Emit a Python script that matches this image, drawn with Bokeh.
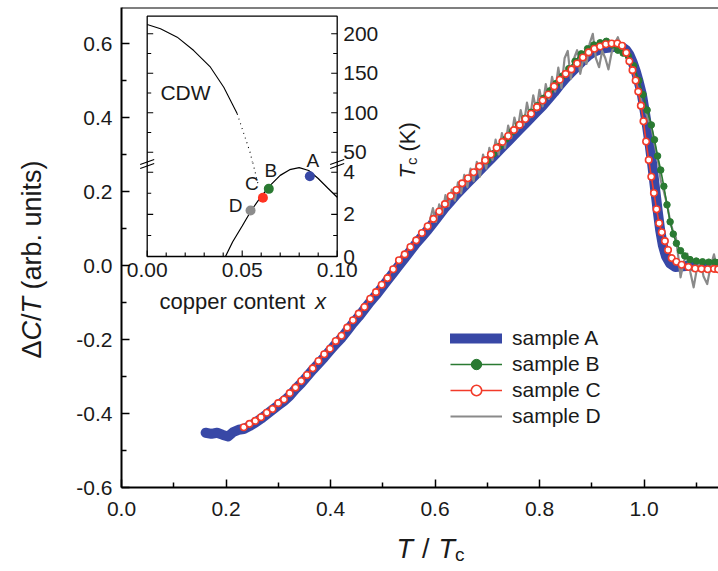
import math
from bokeh.plotting import figure
from bokeh.layouts import row, column
from bokeh.models import Range1d, FixedTicker, Label, Legend, LegendItem, Span
from bokeh.core.properties import value
from bokeh.embed import file_html
from bokeh.resources import INLINE

# ------------------------------------------------------------------ data
x_ticks = [0.0, 0.2, 0.4, 0.6, 0.8, 1.0]
x_tick_labels = ["0.0", "0.2", "0.4", "0.6", "0.8", "1.0"]
y_ticks = [-0.6, -0.4, -0.2, 0.0, 0.2, 0.4, 0.6]
y_tick_labels = ["-0.6", "-0.4", "-0.2", "0.0", "0.2", "0.4", "0.6"]

a_x = [0.161, 0.172, 0.183, 0.194, 0.204, 0.214, 0.224, 0.234, 0.245, 0.256, 0.267, 0.278,
       0.289, 0.300, 0.311, 0.322, 0.333, 0.344, 0.355, 0.366, 0.377, 0.388, 0.399, 0.410,
       0.421, 0.432, 0.443, 0.454, 0.465, 0.476, 0.487, 0.498, 0.509, 0.520, 0.531, 0.542,
       0.553, 0.564, 0.575, 0.586, 0.597, 0.608, 0.619, 0.630, 0.641, 0.652, 0.663, 0.674,
       0.685, 0.696, 0.707, 0.718, 0.729, 0.740, 0.751, 0.762, 0.773, 0.784, 0.795, 0.806,
       0.817, 0.828, 0.839, 0.850, 0.861, 0.872, 0.883, 0.894, 0.905, 0.916, 0.927, 0.938,
       0.949, 0.958, 0.966, 0.972, 0.978, 0.984, 0.990, 0.996, 1.001, 1.006, 1.011, 1.016,
       1.021, 1.026, 1.031, 1.036, 1.042, 1.050, 1.060, 1.075, 1.090, 1.105, 1.120, 1.135, 1.143]
a_y = [-0.452, -0.455, -0.452, -0.458, -0.462, -0.450, -0.444, -0.442, -0.434, -0.425, -0.414, -0.402,
       -0.390, -0.378, -0.366, -0.352, -0.334, -0.318, -0.300, -0.282, -0.265, -0.248, -0.230, -0.212,
       -0.196, -0.176, -0.156, -0.138, -0.118, -0.098, -0.080, -0.060, -0.040, -0.020, 0.000, 0.020,
       0.040, 0.060, 0.078, 0.096, 0.116, 0.136, 0.156, 0.174, 0.192, 0.208, 0.224, 0.240,
       0.256, 0.272, 0.288, 0.304, 0.320, 0.336, 0.352, 0.368, 0.384, 0.400, 0.416, 0.432,
       0.450, 0.468, 0.488, 0.506, 0.522, 0.538, 0.554, 0.568, 0.578, 0.584, 0.588, 0.590,
       0.592, 0.590, 0.582, 0.570, 0.550, 0.526, 0.496, 0.462, 0.420, 0.375, 0.325, 0.270,
       0.210, 0.150, 0.095, 0.055, 0.025, 0.005, -0.004, -0.002, 0.000, -0.002, -0.004, -0.004, -0.004]

b_x = [0.700, 0.712, 0.724, 0.736, 0.748, 0.760, 0.772, 0.784, 0.796, 0.808, 0.820, 0.832,
       0.844, 0.856, 0.868, 0.880, 0.892, 0.904, 0.916, 0.928, 0.940, 0.950, 0.960, 0.970,
       0.980, 0.990, 0.998, 1.006, 1.014, 1.020, 1.026, 1.032, 1.038, 1.044, 1.050, 1.056,
       1.062, 1.070, 1.078, 1.088, 1.100, 1.112, 1.124, 1.136, 1.143]
b_y = [0.283, 0.302, 0.322, 0.342, 0.362, 0.380, 0.398, 0.414, 0.432, 0.452, 0.472, 0.492,
       0.512, 0.532, 0.552, 0.572, 0.586, 0.596, 0.602, 0.606, 0.596, 0.582, 0.574, 0.566,
       0.540, 0.500, 0.462, 0.420, 0.380, 0.340, 0.296, 0.258, 0.214, 0.164, 0.118, 0.085,
       0.060, 0.040, 0.026, 0.016, 0.012, 0.010, 0.009, 0.009, 0.008]

c_x = [0.234, 0.245, 0.256, 0.267, 0.278, 0.289, 0.300, 0.311, 0.322, 0.333, 0.344, 0.355,
       0.366, 0.377, 0.388, 0.399, 0.410, 0.421, 0.432, 0.443, 0.454, 0.465, 0.476, 0.487,
       0.498, 0.509, 0.520, 0.531, 0.542, 0.553, 0.564, 0.575, 0.586, 0.597, 0.608, 0.619,
       0.630, 0.641, 0.652, 0.663, 0.674, 0.685, 0.696, 0.707, 0.718, 0.729, 0.740, 0.751,
       0.762, 0.773, 0.784, 0.795, 0.806, 0.817, 0.828, 0.839, 0.850, 0.861, 0.872, 0.883,
       0.894, 0.905, 0.916, 0.927, 0.938, 0.949, 0.958, 0.966, 0.972, 0.978, 0.984, 0.989,
       0.994, 0.999, 1.004, 1.009, 1.014, 1.019, 1.024, 1.029, 1.034, 1.040, 1.046, 1.053,
       1.062, 1.072, 1.085, 1.098, 1.110, 1.122, 1.134, 1.142]
c_y = [-0.437, -0.428, -0.420, -0.410, -0.398, -0.388, -0.372, -0.362, -0.345, -0.330, -0.312, -0.296,
       -0.278, -0.258, -0.240, -0.225, -0.204, -0.190, -0.168, -0.148, -0.130, -0.112, -0.090, -0.072,
       -0.052, -0.034, -0.010, 0.014, 0.030, 0.050, 0.068, 0.088, 0.106, 0.126, 0.146, 0.166,
       0.188, 0.204, 0.222, 0.236, 0.252, 0.268, 0.284, 0.300, 0.318, 0.334, 0.350, 0.366,
       0.380, 0.396, 0.410, 0.428, 0.446, 0.462, 0.484, 0.502, 0.518, 0.530, 0.546, 0.562,
       0.576, 0.586, 0.592, 0.598, 0.600, 0.600, 0.594, 0.575, 0.552, 0.528, 0.500, 0.470,
       0.432, 0.390, 0.335, 0.285, 0.240, 0.196, 0.152, 0.114, 0.090, 0.066, 0.042, 0.020,
       0.010, 0.002, -0.004, -0.008, -0.009, -0.010, -0.009, -0.010]

d_x = [0.590, 0.596, 0.602, 0.608, 0.614, 0.620, 0.626, 0.632, 0.638, 0.644, 0.650, 0.656,
       0.662, 0.668, 0.674, 0.680, 0.686, 0.692, 0.698, 0.704, 0.710, 0.716, 0.722, 0.728,
       0.734, 0.740, 0.746, 0.752, 0.758, 0.764, 0.770, 0.776, 0.782, 0.788, 0.794, 0.800,
       0.806, 0.812, 0.818, 0.824, 0.830, 0.836, 0.842, 0.848, 0.854, 0.860, 0.866, 0.872,
       0.878, 0.884, 0.890, 0.896, 0.902, 0.908, 0.914, 0.920, 0.926, 0.932, 0.938, 0.944,
       0.950, 0.956, 0.962, 0.968, 0.974, 0.980, 0.988, 0.996, 1.002, 1.008, 1.014, 1.020,
       1.026, 1.032, 1.038, 1.045, 1.050, 1.056, 1.061, 1.066, 1.070, 1.076, 1.083, 1.089,
       1.095, 1.101, 1.108, 1.114, 1.121, 1.127, 1.134, 1.140, 1.143]
d_y = [0.120, 0.155, 0.118, 0.165, 0.140, 0.190, 0.160, 0.205, 0.175, 0.225, 0.195, 0.245,
       0.212, 0.262, 0.228, 0.280, 0.240, 0.300, 0.262, 0.318, 0.285, 0.340, 0.300, 0.358,
       0.318, 0.378, 0.345, 0.400, 0.365, 0.420, 0.380, 0.440, 0.400, 0.460, 0.418, 0.475,
       0.430, 0.490, 0.450, 0.510, 0.470, 0.535, 0.480, 0.560, 0.580, 0.505, 0.560, 0.582,
       0.518, 0.560, 0.545, 0.600, 0.626, 0.560, 0.536, 0.580, 0.560, 0.530, 0.575, 0.600,
       0.617, 0.590, 0.572, 0.580, 0.560, 0.520, 0.480, 0.440, 0.420, 0.395, 0.375, 0.330,
       0.290, 0.230, 0.200, 0.160, 0.120, 0.090, 0.076, 0.020, -0.032, 0.010, 0.032, -0.020,
       -0.059, -0.010, 0.014, -0.030, -0.050, -0.005, 0.030, -0.010, -0.020]

series_names = ["sample A", "sample B", "sample C", "sample D"]

# inset: phase diagram
inset_x_ticks = [0.0, 0.05, 0.10]
inset_x_tick_labels = ["0.00", "0.05", "0.10"]
inset_x_minor = [0.01, 0.02, 0.03, 0.04, 0.06, 0.07, 0.08, 0.09]
tc_low_ticks = [0, 2, 4]
tc_low_tick_labels = ["0", "2", "4"]
tc_low_minor = [1, 3]
tc_high_ticks = [50, 100, 150, 200]
tc_high_tick_labels = ["50", "100", "150", "200"]
tc_high_minor = [75, 125, 175]

cdw_x = [0.000, 0.007, 0.0158, 0.0245, 0.0333, 0.0403, 0.0474]
cdw_t = [211.8, 206.3, 195.7, 178.8, 157.7, 132.3, 98.6]
cdw_dot_hi_x = [0.0474, 0.0509, 0.0544, 0.0553]
cdw_dot_hi_t = [98.6, 73.3, 48.0, 37.5]
cdw_dot_lo_x = [0.0556, 0.0587]
cdw_dot_lo_t = [4.45, 3.30]
dome_x = [0.0412, 0.0450, 0.0500, 0.0550, 0.0600, 0.0650, 0.0700, 0.0750, 0.0800, 0.0850,
          0.0900, 0.0950, 0.1000]
dome_t = [0.0, 0.70, 1.45, 2.22, 2.85, 3.40, 3.85, 4.12, 4.22, 4.08, 3.70, 3.25, 2.81]
sample_labels = ["A", "B", "C", "D"]
sample_x = [0.0856, 0.0640, 0.0609, 0.0544]
sample_tc = [3.81, 3.21, 2.79, 2.18]

# ------------------------------------------------------------------ layout / style
W, H = 718, 571
FL, FR, FT, FB = 121, 718, 7, 487     # main frame in page px
YT_W = 60                              # strip left of the plot holding the y title
XT_H = 41                              # strip below the plot holding the x title
P_W, P_H = W - YT_W, H - XT_H
XPX = 522.5          # px per unit of T/Tc
YPX = 370.0          # px per unit of dC/T
Y0 = -0.6
FONT = "Liberation Sans"

# inset placement (page px)
IX0, IX1 = 146.7, 336.7
IY_TOP, IY_BOT, IY_BREAK = 15.7, 256.0, 161.5
K_LO = 21.07         # px per K in the lower (Tc) segment; 0 K at IY_BOT
Y200, K_HI = 33.3, 0.7893   # 200 K position and px per K in upper segment

BLUE = "#3848a6"
GREEN = "#2a7a32"
RED = "#f23b2a"
GRAY = "#8a8a8a"
TXT = "#1a1a1a"

x_range = Range1d(0.0, (FR - FL) / XPX)
y_range = Range1d(Y0, Y0 + (FB - FT) / YPX)

p = figure(width=P_W, height=P_H, x_range=x_range, y_range=y_range,
           output_backend="svg", toolbar_location=None,
           min_border_left=FL - YT_W, min_border_right=0, min_border_top=FT,
           min_border_bottom=P_H - FB)
p.background_fill_color = "white"
p.border_fill_color = "white"
p.outline_line_color = None
p.xgrid.visible = False
p.ygrid.visible = False

kx = (IX1 - IX0) / (inset_x_ticks[-1] - inset_x_ticks[0])
p.extra_x_ranges = {
    "ix": Range1d(inset_x_ticks[0] - (IX0 - FL) / kx, inset_x_ticks[-1] + (FR - IX1) / kx),
    "spx": Range1d(FL, FR),
}
p.extra_y_ranges = {
    "ilo": Range1d(0 - (FB - IY_BOT) / K_LO, 0 + (IY_BOT - FT) / K_LO),
    "ihi": Range1d(200 - (FB - Y200) / K_HI, 200 + (Y200 - FT) / K_HI),
    "spy": Range1d(FB, FT),
}

# ---- main axes
x_minor = [round(t + 0.1, 3) for t in x_ticks]
y_minor = [round(t + 0.1, 3) for t in y_ticks[:-1]]
p.xaxis.ticker = FixedTicker(ticks=x_ticks, minor_ticks=x_minor)
p.yaxis.ticker = FixedTicker(ticks=y_ticks, minor_ticks=y_minor)
p.xaxis.major_label_overrides = dict(zip(x_ticks, x_tick_labels))
p.yaxis.major_label_overrides = dict(zip(y_ticks, y_tick_labels))
for ax in (p.xaxis, p.yaxis):
    ax.axis_line_width = 2
    ax.axis_line_color = "black"
    ax.major_tick_in = 8
    ax.major_tick_out = 0
    ax.minor_tick_in = 5
    ax.minor_tick_out = 0
    ax.major_tick_line_width = 1.5
    ax.minor_tick_line_width = 1.5
    ax.major_tick_line_color = "black"
    ax.minor_tick_line_color = "black"
    ax.major_label_text_font = FONT
    ax.major_label_text_font_size = "21px"
    ax.major_label_text_color = TXT
p.xaxis.major_label_standoff = 14
p.yaxis.major_label_standoff = 9

p.add_layout(Span(location=y_range.end, dimension="width", line_color="black", line_width=2))

# ---- main data
rA = p.line(a_x, a_y, line_color=BLUE, line_width=10, line_join="round", line_cap="round")
rD = p.line(d_x, d_y, line_color=GRAY, line_width=2.2, line_join="round")
rBl = p.line(b_x, b_y, line_color=GREEN, line_width=1.6)
rBp = p.scatter(b_x, b_y, size=6.5, fill_color=GREEN, line_color=GREEN)
rCl = p.line(c_x, c_y, line_color=RED, line_width=1.6)
rCp = p.scatter(c_x, c_y, size=6.5, fill_color="white", line_color=RED, line_width=1.6)

legend = Legend(items=[
    LegendItem(label=series_names[0], renderers=[rA]),
    LegendItem(label=series_names[1], renderers=[rBl, rBp]),
    LegendItem(label=series_names[2], renderers=[rCl, rCp]),
    LegendItem(label=series_names[3], renderers=[rD]),
], location=(450 - FL, FB - 429))
legend.glyph_width = 52
legend.glyph_height = 26
legend.label_height = 26
legend.spacing = 0
legend.padding = 0
legend.margin = 0
legend.label_standoff = 10
legend.label_text_font = FONT
legend.label_text_font_size = "21px"
legend.label_text_color = TXT
legend.border_line_color = None
legend.background_fill_alpha = 0
p.add_layout(legend)

# ---- title strips (figures whose data space is page px)
# yt spans the whole page height at the left; xt sits under p and its frame is aligned
# with p's frame (page x FL..FR) by the column layout.
yt = figure(width=YT_W, height=H, x_range=Range1d(0, YT_W), y_range=Range1d(H, 0),
            x_axis_type=None, y_axis_type=None, output_backend="svg", toolbar_location=None,
            min_border=0, title=None)
xt = figure(width=P_W, height=XT_H, x_range=Range1d(FL, FR), y_range=Range1d(H, P_H),
            x_axis_type=None, y_axis_type=None, output_backend="svg", toolbar_location=None,
            min_border=0, title=None)
for f in (yt, xt):
    f.outline_line_color = None
    f.background_fill_color = "white"
    f.border_fill_color = "white"
    f.grid.visible = False


def pieces(fig, items, cx, cy, axis, xr=None, yr=None):
    """Text made of differently styled pieces, placed in page px.
    items: (text, style, size_px, advance_em, shift_px, gap_before_px).
    axis 'x': runs left->right ; axis 'y': runs bottom->top (rotated 90 deg)."""
    pos = 0.0
    kw = {}
    if xr:
        kw["x_range_name"] = xr
    if yr:
        kw["y_range_name"] = yr
    for text, style, size, adv, shift, gap in items:
        pos += gap
        if axis == "x":
            px_, py_, ang = cx + pos, cy + shift, 0.0
        else:
            px_, py_, ang = cx + shift, cy - pos, math.pi / 2
        fig.add_layout(Label(x=px_, y=py_, text=text, angle=ang, text_font=FONT,
                             text_font_size=f"{size}px", text_font_style=style, text_color=TXT,
                             text_align="left", text_baseline="alphabetic", **kw))
        pos += adv * size


# y title: "ΔC/T (arb. units)"
pieces(yt, [("Δ", "normal", 27, 0.668, 0, 0), ("C", "italic", 27, 0.722, 0, 0),
            ("/", "normal", 27, 0.278, 0, 0), ("T", "italic", 27, 0.611, 0, 0),
            ("(arb. units)", "normal", 27, 4.779, 0, 7.5)], 31, 358, "y")
# x title: "T / Tc"
pieces(xt, [("T", "italic", 27, 0.611, 0, 0), ("/", "normal", 27, 0.278, 0, 9),
            ("T", "italic", 27, 0.611, 0, 9), ("c", "normal", 19, 0.5, 6, 0)], 396, 548, "x")

# ---- inset frame
p.quad(left=[inset_x_ticks[0]], right=[inset_x_ticks[-1]], top=[IY_TOP], bottom=[IY_BOT],
       x_range_name="ix", y_range_name="spy", fill_color=None, line_color="black", line_width=1.3)


# inset ticks (inward on left, right and bottom)
def hticks(vals, length_px, rng):
    ln = length_px / kx
    x_l, x_r = inset_x_ticks[0], inset_x_ticks[-1]
    p.segment(x0=[x_l] * len(vals), y0=vals, x1=[x_l + ln] * len(vals), y1=vals,
              x_range_name="ix", y_range_name=rng, line_color="black", line_width=1.1)
    p.segment(x0=[x_r] * len(vals), y0=vals, x1=[x_r - ln] * len(vals), y1=vals,
              x_range_name="ix", y_range_name=rng, line_color="black", line_width=1.1)


hticks(tc_low_ticks, 6, "ilo")
hticks(tc_low_minor, 4, "ilo")
hticks(tc_high_ticks, 6, "ihi")
hticks(tc_high_minor, 4, "ihi")
for vals, ln in ((inset_x_ticks, 6), (inset_x_minor, 4)):
    p.segment(x0=vals, y0=[0] * len(vals), x1=vals, y1=[ln / K_LO] * len(vals),
              x_range_name="ix", y_range_name="ilo", line_color="black", line_width=1.1)

# inset tick labels
p.text(x=inset_x_ticks, y=[0] * 3, text=inset_x_tick_labels, x_range_name="ix", y_range_name="ilo",
       text_font=value(FONT), text_font_size="21px", text_color=TXT, text_align="center",
       text_baseline="top", y_offset=6)
p.text(x=[inset_x_ticks[-1]] * 3, y=tc_low_ticks, text=tc_low_tick_labels, x_range_name="ix",
       y_range_name="ilo", text_font=value(FONT), text_font_size="21px", text_color=TXT,
       text_align="left", text_baseline="middle", x_offset=6)
p.text(x=[inset_x_ticks[-1]] * 4, y=tc_high_ticks, text=tc_high_tick_labels, x_range_name="ix",
       y_range_name="ihi", text_font=value(FONT), text_font_size="21px", text_color=TXT,
       text_align="left", text_baseline="middle", x_offset=6)

# axis break marks
for xb in (IX0, IX1):
    for dy in (0.0, 4.0):
        p.segment(x0=[xb - 7], y0=[IY_BREAK + 2.5 + dy], x1=[xb + 7], y1=[IY_BREAK - 2.5 + dy],
                  x_range_name="spx", y_range_name="spy", line_color="black", line_width=1.1)

# inset curves
p.line(cdw_x, cdw_t, x_range_name="ix", y_range_name="ihi", line_color="black", line_width=1.1)
p.line(cdw_dot_hi_x, cdw_dot_hi_t, x_range_name="ix", y_range_name="ihi", line_color="black",
       line_width=1.1, line_dash="1 4")
p.line(cdw_dot_lo_x, cdw_dot_lo_t, x_range_name="ix", y_range_name="ilo", line_color="black",
       line_width=1.1, line_dash="1 4")
p.line(dome_x, dome_t, x_range_name="ix", y_range_name="ilo", line_color="black", line_width=1.2)
p.scatter(sample_x, sample_tc, x_range_name="ix", y_range_name="ilo", size=10,
          fill_color=[BLUE, GREEN, "#ff3322", "#8c8c8c"], line_color=None)
label_offsets = [(3, -16), (2, -18), (-11, -14), (-15, -5)]
for name, sx, st, (ox, oy) in zip(sample_labels, sample_x, sample_tc, label_offsets):
    p.text(x=[sx], y=[st], text=[name], x_range_name="ix", y_range_name="ilo", x_offset=ox,
           y_offset=oy, text_font=value(FONT), text_font_size="19px", text_color=TXT,
           text_align="center", text_baseline="middle")

p.add_layout(Label(x=185, y=92, x_range_name="spx", y_range_name="spy", text="CDW",
                   text_font=FONT, text_font_size="21px", text_color=TXT,
                   text_align="center", text_baseline="middle"))
# inset x title "copper content x"
pieces(p, [("copper content", "normal", 22, 6.791, 0, 0), ("x", "italic", 22, 0.5, 0, 6.1)],
       159, 301, "x", "spx", "spy")
# inset right title "Tc (K)"
pieces(p, [("T", "italic", 22, 0.611, 0, 0), ("c", "normal", 15, 0.5, 4, 0),
           ("(K)", "normal", 22, 1.333, 0, 6.1)], 407, 178, "y", "spx", "spy")

layout = row(yt, column(p, xt, spacing=0), spacing=0)

html = file_html(layout, INLINE, title="dC/T")
with open("out.html", "w") as f:
    f.write(html)
